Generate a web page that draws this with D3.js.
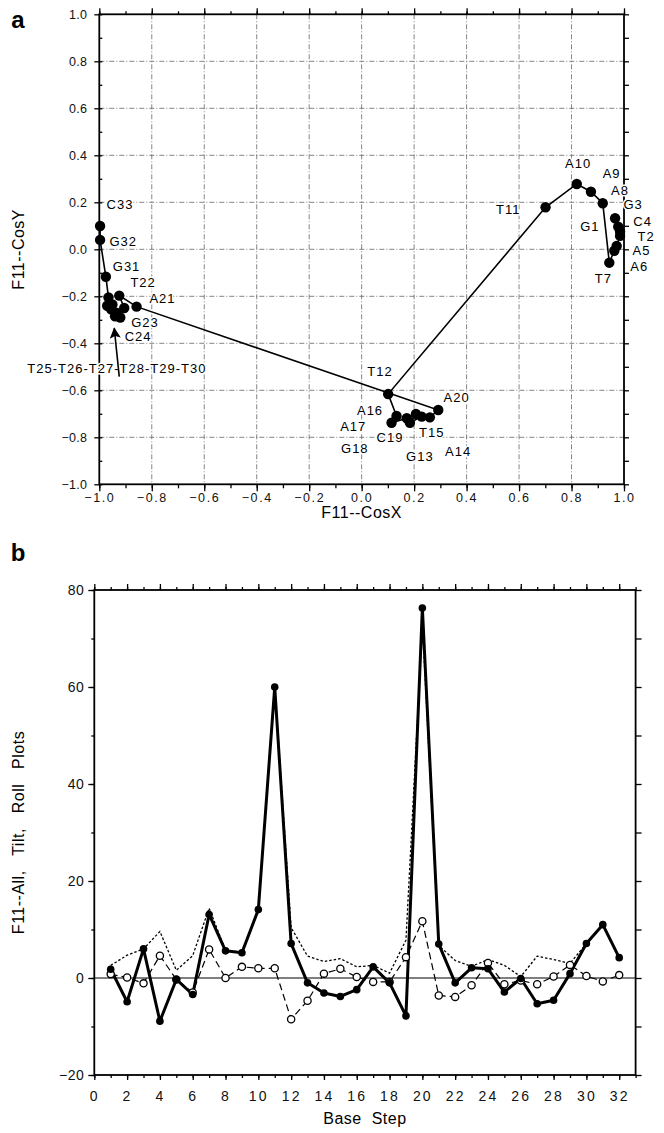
<!DOCTYPE html>
<html>
<head>
<meta charset="utf-8">
<script src="https://cdn.jsdelivr.net/npm/d3@7"></script>
<style>
  body { margin: 0; background: #fff; }
  svg { display: block; font-family: "Liberation Sans", Arial, sans-serif; }
  .tick text { fill: #111; }
</style>
</head>
<body>
<div id="chart"></div>
<script>
// ---- panel a data: unit vector path, one point per base
var bases = ["G1","T2","G3","C4","A5","A6","T7","A8","A9","A10","T11","T12","G13","A14","T15","A16","A17","G18","C19","A20","A21","T22","G23","C24","T25","T26","T27","T28","T29","T30","G31","G32","C33"];
var cosX = [0.966,0.985,0.978,0.985,0.972,0.963,0.944,0.919,0.874,0.820,0.701,0.101,0.133,0.114,0.172,0.207,0.184,0.229,0.260,0.292,-0.858,-0.924,-0.905,-0.920,-0.940,-0.955,-0.935,-0.970,-0.950,-0.965,-0.975,-0.997,-0.997];
var cosY = [0.132,0.075,0.096,0.057,0.014,-0.006,-0.057,0.196,0.245,0.278,0.179,-0.616,-0.709,-0.738,-0.719,-0.701,-0.738,-0.712,-0.715,-0.684,-0.244,-0.197,-0.250,-0.290,-0.285,-0.255,-0.270,-0.240,-0.235,-0.205,-0.117,0.040,0.099];

// label placement (data units) for panel a
var labelText = ["A10","A9","A8","G3","C4","T2","A5","A6","T7","G1","T11","T12","A20","A16","A17","C19","T15","G18","G13","A14","C33","G32","G31","T22","A21","G23","C24","T25-T26-T27-T28-T29-T30"];
var labelX = [0.825,0.953,0.985,1.035,1.071,1.084,1.067,1.058,0.921,0.870,0.559,0.070,0.362,0.032,-0.032,0.108,0.267,-0.026,0.222,0.368,-0.921,-0.909,-0.896,-0.833,-0.759,-0.826,-0.852,-0.933];
var labelY = [0.367,0.323,0.252,0.191,0.117,0.057,-0.006,-0.074,-0.123,0.096,0.170,-0.521,-0.630,-0.684,-0.752,-0.800,-0.780,-0.847,-0.883,-0.861,0.193,0.032,-0.071,-0.142,-0.209,-0.312,-0.369,-0.505];
var arrowFrom = [-0.924,-0.542], arrowTo = [-0.943,-0.336];

// ---- panel b data
var steps = d3.range(1, 33);
var allVals  = [1.8,-4.9,6.0,-8.9,-0.3,-3.4,13.1,5.6,5.2,14.1,60.0,7.1,-1.0,-3.1,-3.8,-2.4,2.3,-1.0,-7.8,76.3,7.0,-1.0,2.1,1.9,-2.9,-0.1,-5.3,-4.6,0.9,7.1,11.0,4.2];
var tiltVals = [0.8,0.1,-1.1,4.6,-0.3,-3.0,5.9,0.0,2.3,2.0,2.0,-8.5,-4.7,0.9,1.9,0.2,-0.8,-0.8,4.3,11.7,-3.6,-3.9,-1.5,3.1,-1.3,-0.5,-1.3,0.3,2.7,0.4,-0.7,0.6];
var rollVals = [2.6,4.7,6.0,9.6,1.6,4.6,14.4,5.7,5.3,14.2,60.3,10.4,4.5,3.4,4.0,2.3,2.6,1.0,7.8,73.0,6.7,3.6,2.4,3.8,2.6,0.3,4.5,3.8,3.0,7.1,11.0,4.2];

var aTicks = [-1.0,-0.8,-0.6,-0.4,-0.2,0.0,0.2,0.4,0.6,0.8,1.0];
var bXTicks = d3.range(0, 33, 2);
var bYTicks = [-20,0,20,40,60,80];

var width = 664, height = 1133;
var svg = d3.select("#chart").append("svg")
  .attr("width", width).attr("height", height);

svg.append("defs").append("marker")
  .attr("id", "head").attr("viewBox", "0 0 10 10")
  .attr("refX", 9).attr("refY", 5)
  .attr("markerWidth", 11).attr("markerHeight", 11)
  .attr("markerUnits", "userSpaceOnUse")
  .attr("orient", "auto")
  .append("path").attr("d", "M0,0 L10,5 L0,10 L2,5 Z").attr("fill", "#000");

function styleAxis(g, fs, ls) {
  g.select(".domain").remove();
  g.selectAll(".tick line").attr("stroke", "#000").attr("stroke-width", 1.3);
  g.selectAll(".tick text").attr("font-size", fs).attr("letter-spacing", ls)
    .attr("font-family", "Liberation Sans, Arial, sans-serif");
}

// ================= panel a =================
var xA = d3.scaleLinear().domain([-1, 1]).range([99.3, 624]);
var yA = d3.scaleLinear().domain([-1, 1]).range([484.3, 14.3]);
var fmt1 = d3.format(".1f");
var minorA = d3.range(-1, 1.0001, 0.1);

var ga = svg.append("g");

// grid
ga.append("g").selectAll("line.v").data(aTicks.slice(1, -1)).enter().append("line")
  .attr("x1", d => xA(d)).attr("x2", d => xA(d))
  .attr("y1", yA(1)).attr("y2", yA(-1))
  .attr("stroke", "#666").attr("stroke-width", 0.8).attr("stroke-dasharray", "5,2,1,2");
ga.append("g").selectAll("line.h").data(aTicks.slice(1, -1)).enter().append("line")
  .attr("y1", d => yA(d)).attr("y2", d => yA(d))
  .attr("x1", xA(-1)).attr("x2", xA(1))
  .attr("stroke", "#666").attr("stroke-width", 0.8).attr("stroke-dasharray", "5,2,1,2");

// axes
ga.append("g").attr("transform", "translate(0," + yA(-1) + ")")
  .call(d3.axisBottom(xA).tickValues(minorA).tickSize(4).tickFormat(""))
  .call(g => styleAxis(g, 12, 0));
ga.append("g").attr("transform", "translate(0," + yA(-1) + ")")
  .call(d3.axisBottom(xA).tickValues(aTicks).tickSize(7).tickPadding(2).tickFormat(fmt1))
  .call(g => styleAxis(g, 12.5, 1.6));
ga.append("g").attr("transform", "translate(0," + yA(1) + ")")
  .call(d3.axisTop(xA).tickValues(minorA).tickSize(3).tickFormat(""))
  .call(g => styleAxis(g, 12, 0));
ga.append("g").attr("transform", "translate(0," + yA(1) + ")")
  .call(d3.axisTop(xA).tickValues(aTicks).tickSize(6).tickFormat(""))
  .call(g => styleAxis(g, 12, 0));
ga.append("g").attr("transform", "translate(" + xA(-1) + ",0)")
  .call(d3.axisLeft(yA).tickValues(minorA).tickSize(-3).tickFormat(""))
  .call(g => styleAxis(g, 12, 0));
ga.append("g").attr("transform", "translate(" + xA(-1) + ",0)")
  .call(d3.axisLeft(yA).tickValues(aTicks).tickSize(5).tickPadding(7).tickFormat(fmt1))
  .call(g => styleAxis(g, 12.5, 0.3));
ga.append("g").attr("transform", "translate(" + xA(1) + ",0)")
  .call(d3.axisRight(yA).tickValues(minorA).tickSize(5).tickFormat(""))
  .call(g => styleAxis(g, 12, 0));

ga.append("rect").attr("x", xA(-1)).attr("y", yA(1))
  .attr("width", xA(1) - xA(-1)).attr("height", yA(-1) - yA(1))
  .attr("fill", "none").attr("stroke", "#000").attr("stroke-width", 1.8);

// labels with white halo so the grid breaks around them
ga.append("g").selectAll("text").data(labelText).enter().append("text")
  .attr("x", (d, i) => xA(labelX[i])).attr("y", (d, i) => yA(labelY[i]))
  .attr("dy", "0.36em").attr("text-anchor", "middle")
  .attr("font-size", 13).attr("letter-spacing", 1)
  .attr("stroke", "#fff").attr("stroke-width", 3).attr("paint-order", "stroke")
  .attr("fill", "#000").text(d => d);

// path and points
var ptsA = bases.map((b, i) => [cosX[i], cosY[i]]);
ga.append("path").datum(ptsA)
  .attr("d", d3.line().x(d => xA(d[0])).y(d => yA(d[1])))
  .attr("fill", "none").attr("stroke", "#000").attr("stroke-width", 1.6);
ga.append("g").selectAll("circle").data(ptsA).enter().append("circle")
  .attr("cx", d => xA(d[0])).attr("cy", d => yA(d[1])).attr("r", 5.2)
  .attr("fill", "#000");

// arrow to the T25-T30 cluster
ga.append("line")
  .attr("x1", xA(arrowFrom[0])).attr("y1", yA(arrowFrom[1]))
  .attr("x2", xA(arrowTo[0])).attr("y2", yA(arrowTo[1]))
  .attr("stroke", "#000").attr("stroke-width", 1.6).attr("marker-end", "url(#head)");

ga.append("text").attr("x", 18).attr("y", 28).attr("text-anchor", "middle")
  .attr("font-size", 24).attr("font-weight", "bold").text("a");
ga.append("text").attr("transform", "translate(24," + yA(0) + ") rotate(-90)")
  .attr("text-anchor", "middle").attr("font-size", 16).attr("letter-spacing", 0.5).text("F11--CosY");
ga.append("text").attr("x", xA(0)).attr("y", 518).attr("text-anchor", "middle")
  .attr("font-size", 16).attr("letter-spacing", 0.5).text("F11--CosX");

// ================= panel b =================
var xB = d3.scaleLinear().domain([0, 33]).range([94.3, 635.6]);
var yB = d3.scaleLinear().domain([-20, 80]).range([1075, 590]);
var gb = svg.append("g");

gb.append("g").attr("transform", "translate(0," + yB(-20) + ")")
  .call(d3.axisBottom(xB).tickValues(d3.range(0, 34)).tickSize(3).tickFormat(""))
  .call(g => styleAxis(g, 12, 0));
gb.append("g").attr("transform", "translate(0," + yB(-20) + ")")
  .call(d3.axisBottom(xB).tickValues(bXTicks).tickSize(5).tickPadding(11).tickFormat(d3.format("d")))
  .call(g => styleAxis(g, 14, 2.2));
gb.append("g").attr("transform", "translate(0," + yB(80) + ")")
  .call(d3.axisTop(xB).tickValues(d3.range(0, 34)).tickSize(3).tickFormat(""))
  .call(g => styleAxis(g, 12, 0));
gb.append("g").attr("transform", "translate(0," + yB(80) + ")")
  .call(d3.axisTop(xB).tickValues(bXTicks).tickSize(6).tickFormat(""))
  .call(g => styleAxis(g, 12, 0));
gb.append("g").attr("transform", "translate(" + xB(0) + ",0)")
  .call(d3.axisLeft(yB).tickValues(d3.range(-20, 81, 10)).tickSize(3).tickFormat(""))
  .call(g => styleAxis(g, 12, 0));
gb.append("g").attr("transform", "translate(" + xB(0) + ",0)")
  .call(d3.axisLeft(yB).tickValues(bYTicks).tickSize(6).tickPadding(4).tickFormat(d3.format("d")))
  .call(g => styleAxis(g, 14, 0.5));
gb.append("g").attr("transform", "translate(" + xB(33) + ",0)")
  .call(d3.axisRight(yB).tickValues(d3.range(-20, 81, 10)).tickSize(6).tickFormat(""))
  .call(g => styleAxis(g, 12, 0));

gb.append("line").attr("x1", xB(0)).attr("x2", xB(33))
  .attr("y1", yB(0)).attr("y2", yB(0)).attr("stroke", "#000").attr("stroke-width", 1.2);

gb.append("rect").attr("x", xB(0)).attr("y", yB(80))
  .attr("width", xB(33) - xB(0)).attr("height", yB(-20) - yB(80))
  .attr("fill", "none").attr("stroke", "#000").attr("stroke-width", 1.8);

var lineB = vals => d3.line().x((d, i) => xB(steps[i])).y(d => yB(d))(vals);

gb.append("path").attr("d", lineB(rollVals)).attr("fill", "none")
  .attr("stroke", "#000").attr("stroke-width", 1.3).attr("stroke-dasharray", "2.5,2");
gb.append("path").attr("d", lineB(tiltVals)).attr("fill", "none")
  .attr("stroke", "#000").attr("stroke-width", 1.2).attr("stroke-dasharray", "7,4");
gb.append("path").attr("d", lineB(allVals)).attr("fill", "none")
  .attr("stroke", "#000").attr("stroke-width", 3).attr("stroke-linejoin", "round");

gb.append("g").selectAll("circle").data(tiltVals).enter().append("circle")
  .attr("cx", (d, i) => xB(steps[i])).attr("cy", d => yB(d)).attr("r", 3.6)
  .attr("fill", "#fff").attr("stroke", "#000").attr("stroke-width", 1.3);
gb.append("g").selectAll("circle").data(allVals).enter().append("circle")
  .attr("cx", (d, i) => xB(steps[i])).attr("cy", d => yB(d)).attr("r", 3.8)
  .attr("fill", "#000");

gb.append("text").attr("x", 18).attr("y", 561).attr("text-anchor", "middle")
  .attr("font-size", 24).attr("font-weight", "bold").text("b");
gb.append("text").attr("transform", "translate(24," + yB(30) + ") rotate(-90)")
  .attr("text-anchor", "middle").attr("font-size", 16).attr("letter-spacing", 0.5)
  .style("white-space", "pre").text("F11--All,   Tilt,   Roll   Plots");
gb.append("text").attr("x", xB(16.5)).attr("y", 1124).attr("text-anchor", "middle")
  .attr("font-size", 16).attr("letter-spacing", 0.5).style("white-space", "pre").text("Base  Step");
</script>
</body>
</html>
